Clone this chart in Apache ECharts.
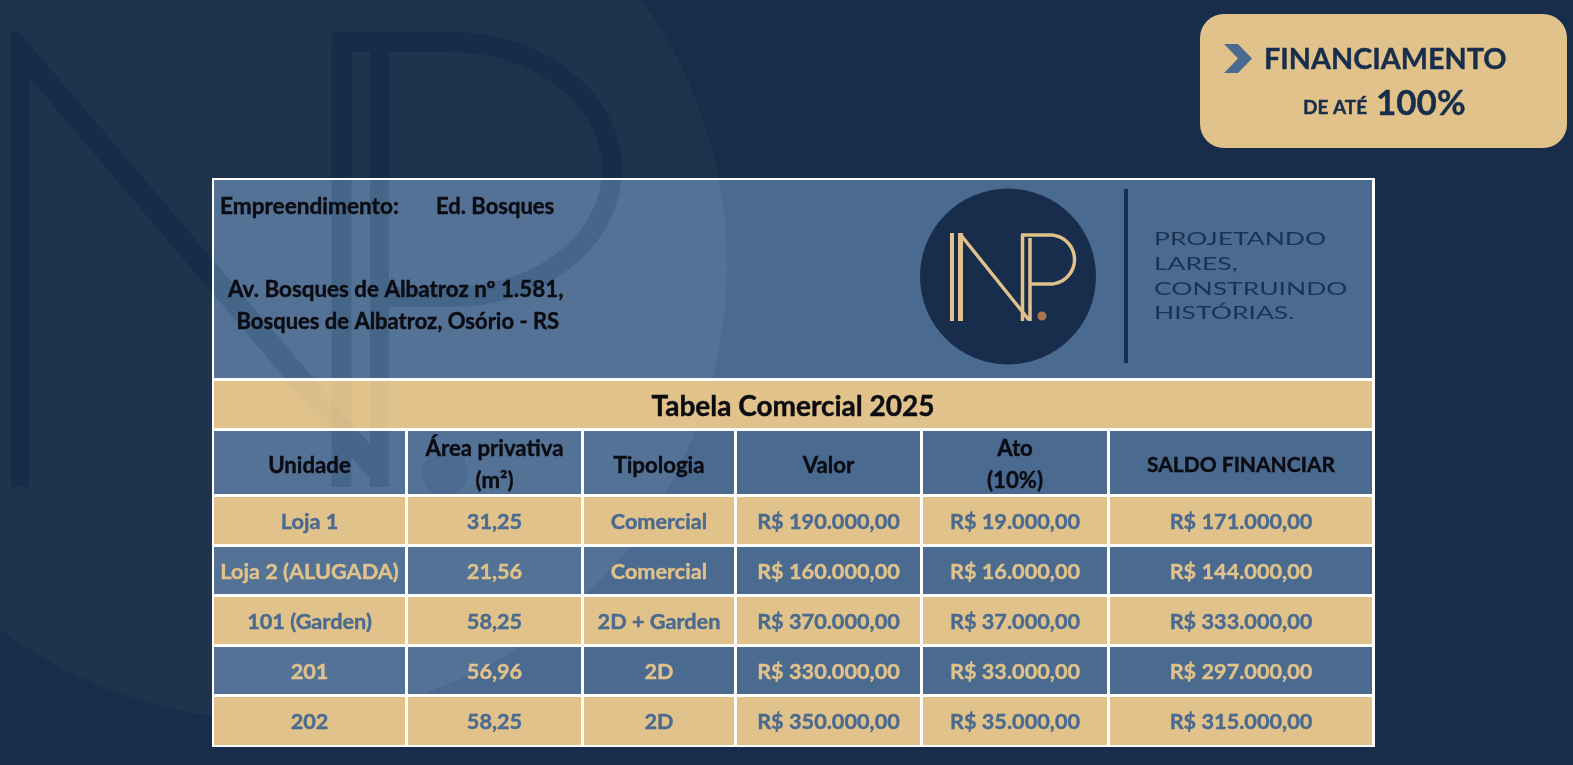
<!DOCTYPE html>
<html>
<head>
<meta charset="utf-8">
<title>Tabela Comercial 2025</title>
<style>
  html, body { margin: 0; padding: 0; background: #182d4b; }
  #chart { width: 1573px; height: 765px; }
</style>
<script src="https://cdn.jsdelivr.net/npm/echarts@6/dist/echarts.min.js"></script>
</head>
<body>
<div id="chart"></div>
<script>
// dados da tabela
const headers = [['Unidade'], ['Área privativa', '(m²)'], ['Tipologia'], ['Valor'], ['Ato', '(10%)'], ['SALDO FINANCIAR']]
const units = ['Loja 1', 'Loja 2 (ALUGADA)', '101 (Garden)', '201', '202']
const areas = [31.25, 21.56, 58.25, 56.96, 58.25]
const types = ['Comercial', 'Comercial', '2D + Garden', '2D', '2D']
const prices = [190000, 160000, 370000, 330000, 350000]
const downPayments = [19000, 16000, 37000, 33000, 35000]
const balances = [171000, 144000, 333000, 297000, 315000]

// layout da tabela em pixels da pagina
const colEdges = [[214, 405], [408, 581], [584, 734], [737, 920], [923, 1107], [1110, 1372]]
const rowEdges = [[431, 494], [497, 544], [547, 594], [597, 644], [647, 694], [697, 745]]

const navy = '#182d4b'
const gold = '#e0c28a'
const blue = '#4a6a90'
const ink = '#0b0b12'
const font = (size, weight) => `${weight || 'bold'} ${size}px Lato, "Noto Sans", sans-serif`

const num = (n) => n.toLocaleString('pt-BR', { minimumFractionDigits: 2, maximumFractionDigits: 2 })
const money = (n) => 'R$ ' + num(n)

const rowCells = units.map((unit, i) => [
  unit, num(areas[i]), types[i], money(prices[i]), money(downPayments[i]), money(balances[i])
])

// um item por celula: [coluna, linha] (linha 0 = cabecalho)
const cellData = []
rowEdges.forEach((r, row) => colEdges.forEach((c, col) => cellData.push([col, row])))

const isGold = (row) => row > 0 && row % 2 === 1

// helpers de desenho, tudo passa pelos eixos
const rectEl = (api, x0, y0, x1, y1, fill) => {
  const a = api.coord([x0, y0])
  const b = api.coord([x1, y1])
  return { type: 'rect', shape: { x: a[0], y: a[1], width: b[0] - a[0], height: b[1] - a[1] }, style: { fill: fill } }
}
const polyEl = (api, pts, fill) => ({
  type: 'polygon', shape: { points: pts.map((p) => api.coord(p)) }, style: { fill: fill }
})
const lineEl = (api, pts, stroke, width) => ({
  type: 'polyline', shape: { points: pts.map((p) => api.coord(p)) },
  style: { fill: null, stroke: stroke, lineWidth: width, lineJoin: 'miter' }
})
const circleEl = (api, x, y, r, fill) => {
  const p = api.coord([x, y])
  return { type: 'circle', shape: { cx: p[0], cy: p[1], r: r }, style: { fill: fill } }
}
const textEl = (api, x, y, text, fill, fnt, align, scaleX) => {
  const p = api.coord([x, y])
  const style = { text: text, fill: fill, font: fnt, textAlign: align || 'center', textVerticalAlign: 'middle' }
  // a fonte original e mais pesada que o Lato bold
  if (fnt.indexOf('bold') === 0) {
    style.stroke = fill
    style.lineWidth = 0.4
  }
  return { type: 'text', x: p[0], y: p[1], scaleX: scaleX || 1, style: style }
}

// contorno do P: barra, meia elipse e retorno
const bowlPoints = (xStart, xBar, xEnd, top, bottom, right) => {
  const pts = [[xStart, top]]
  const cy = (top + bottom) / 2
  const ry = (bottom - top) / 2
  for (let a = -90; a <= 90; a += 5) {
    const t = a * Math.PI / 180
    pts.push([xBar + (right - xBar) * Math.cos(t), cy + ry * Math.sin(t)])
  }
  pts.push([xEnd, bottom])
  return pts
}

// letras NP grandes da marca d'agua
const bigLetters = (api, color) => [
  polyEl(api, [[11, 32], [19, 32], [389, 467], [389, 487], [377, 487], [29, 77], [29, 487], [11, 487]], color),
  lineEl(api, [[341.5, 487], [341.5, 42]], color, 20),
  lineEl(api, [[379.5, 487], [379.5, 52]], color, 19),
  lineEl(api, bowlPoints(332, 451, 389, 42, 297, 612), color, 20)
]

const clipRect = (api, x0, y0, x1, y1) => {
  const a = api.coord([x0, y0])
  const b = api.coord([x1, y1])
  return { type: 'rect', shape: { x: a[0], y: a[1], width: b[0] - a[0], height: b[1] - a[1] } }
}

const renderBackdrop = (params, api) => {
  const badge = rectEl(api, 1200, 14, 1567, 148, gold)
  badge.shape.r = 24
  return {
    type: 'group',
    children: [
      circleEl(api, 272, 265, 455, '#1f334d'),
      ...bigLetters(api, '#172b4b'),
      rectEl(api, 212, 178, 1375, 747, '#ffffff'),
      // selo do financiamento
      badge,
      polyEl(api, [[1224, 44], [1238, 44], [1252, 58.5], [1238, 73], [1224, 73], [1238, 58.5]], blue)
    ]
  }
}

const renderBlueCell = (params, api) => {
  const col = api.value(0)
  const row = api.value(1)
  if (isGold(row)) return null
  return rectEl(api, colEdges[col][0], rowEdges[row][0], colEdges[col][1], rowEdges[row][1], blue)
}

// faixa superior azul + marca d'agua por cima do azul
const renderOverlay = (params, api) => ({
  type: 'group',
  children: [
    rectEl(api, 214, 180, 1372, 378, blue),
    {
      type: 'group',
      clipPath: clipRect(api, 214, 180, 1372, 745),
      children: [
        circleEl(api, 272, 265, 455, 'rgba(255,255,255,0.055)'),
        ...bigLetters(api, '#466689'),
        circleEl(api, 445, 473, 23, '#4b6b90')
      ]
    }
  ]
})

const renderGoldCell = (params, api) => {
  const col = api.value(0)
  const row = api.value(1)
  if (!isGold(row)) return null
  return rectEl(api, colEdges[col][0], rowEdges[row][0], colEdges[col][1], rowEdges[row][1], gold)
}

const renderTop = (params, api) => {
  const lines = []
  // linhas brancas da grade
  rowEdges.forEach((r, i) => {
    if (i > 0) lines.push(rectEl(api, 214, rowEdges[i - 1][1], 1372, r[0], '#ffffff'))
  })
  colEdges.forEach((c, i) => {
    if (i > 0) lines.push(rectEl(api, colEdges[i - 1][1], 431, c[0], 745, '#ffffff'))
  })
  return {
    type: 'group',
    children: [
      rectEl(api, 214, 378, 1372, 431, '#ffffff'),
      rectEl(api, 214, 381, 1372, 428, gold),
      {
        type: 'group',
        clipPath: clipRect(api, 214, 381, 1372, 428),
        children: bigLetters(api, 'rgba(70,100,137,0.03)')
      },
      ...lines,
      // logo
      circleEl(api, 1008, 276.5, 88, navy),
      rectEl(api, 1124, 189, 1128, 363, navy),
      rectEl(api, 950, 233, 954, 321, gold),
      rectEl(api, 958, 233, 963, 321, gold),
      lineEl(api, [[960, 234], [1029, 320]], gold, 3.5),
      lineEl(api, [[1022.5, 321], [1022.5, 235]], gold, 3.5),
      lineEl(api, [[1030, 321], [1030, 238]], gold, 3.5),
      lineEl(api, bowlPoints(1021, 1050, 1030, 235, 284, 1074.5), gold, 3.5),
      circleEl(api, 1042, 316, 4.5, '#a9744f')
    ]
  }
}

const renderCellText = (params, api) => {
  const col = api.value(0)
  const row = api.value(1)
  const cx = (colEdges[col][0] + colEdges[col][1]) / 2
  const cy = (rowEdges[row][0] + rowEdges[row][1]) / 2
  if (row === 0) {
    const label = headers[col]
    const size = col === 5 ? 21 : 22.2
    if (label.length === 1) return textEl(api, cx, 465.5, label[0], ink, font(size))
    return {
      type: 'group',
      children: [
        textEl(api, cx, 449, label[0], ink, font(size)),
        textEl(api, cx, 480.5, label[1], ink, font(size))
      ]
    }
  }
  const color = isGold(row) ? blue : gold
  return textEl(api, cx, cy + 1.5, rowCells[row - 1][col], color, font(21.7))
}

const renderTexts = (params, api) => ({
  type: 'group',
  children: [
    textEl(api, 1264, 59.5, 'FINANCIAMENTO', navy, font(28.8), 'left'),
    textEl(api, 1303, 108, 'DE ATÉ', navy, font(19), 'left'),
    textEl(api, 1376, 104, '100%', navy, font(35), 'left'),
    textEl(api, 220, 207, 'Empreendimento:', ink, font(22.6), 'left'),
    textEl(api, 436, 207, 'Ed. Bosques', ink, font(22), 'left'),
    textEl(api, 228, 289.5, 'Av. Bosques de Albatroz nº 1.581,', ink, font(22.4), 'left'),
    textEl(api, 236.5, 321.5, 'Bosques de Albatroz, Osório - RS', ink, font(22), 'left'),
    textEl(api, 793, 406.5, 'Tabela Comercial 2025', ink, font(28)),
    textEl(api, 1154, 239.5, 'PROJETANDO', '#1b3252', font(18, 'normal'), 'left', 1.47),
    textEl(api, 1154, 264, 'LARES,', '#1b3252', font(18, 'normal'), 'left', 1.47),
    textEl(api, 1154, 289, 'CONSTRUINDO', '#1b3252', font(18, 'normal'), 'left', 1.47),
    textEl(api, 1154, 313.5, 'HISTÓRIAS.', '#1b3252', font(18, 'normal'), 'left', 1.47)
  ]
})

const layer = (renderItem, data, z) => ({
  type: 'custom',
  coordinateSystem: 'cartesian2d',
  renderItem: renderItem,
  data: data,
  z: z,
  clip: false,
  silent: true,
  encode: { x: 0, y: 1 }
})

const myChart = echarts.init(document.getElementById('chart'))
myChart.setOption({
  animation: false,
  backgroundColor: navy,
  grid: { left: 0, right: 0, top: 0, bottom: 0 },
  xAxis: { type: 'value', min: 0, max: 1573, show: false },
  yAxis: { type: 'value', min: 0, max: 765, inverse: true, show: false },
  series: [
    layer(renderBackdrop, [[0, 0]], 1),
    layer(renderOverlay, [[0, 0]], 3),
    layer(renderBlueCell, cellData, 2),
    layer(renderGoldCell, cellData, 4),
    layer(renderTop, [[0, 0]], 5),
    layer(renderTexts, [[0, 0]], 6),
    layer(renderCellText, cellData, 6)
  ]
})
</script>
</body>
</html>
